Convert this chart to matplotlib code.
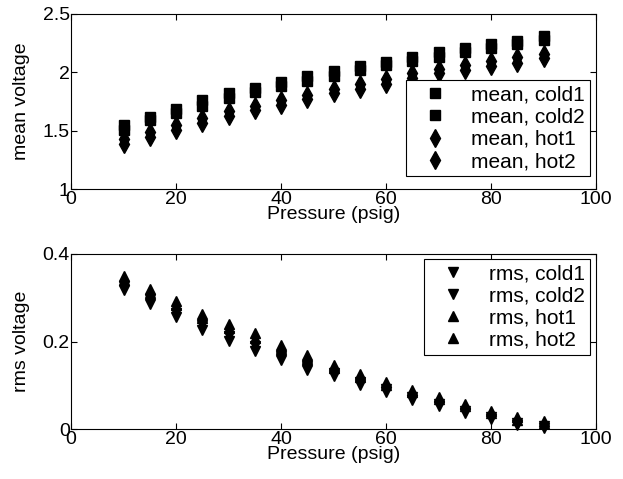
import matplotlib
matplotlib.use("Agg")
import matplotlib.pyplot as plt
import numpy as np

plt.rcParams["font.family"] = ["Liberation Sans", "DejaVu Sans"]
plt.rcParams["font.size"] = 14

pressure = [10, 15, 20, 25, 30, 35, 40, 45, 50, 55, 60, 65, 70, 75, 80, 85, 90]

mean_cold1 = [1.55, 1.62, 1.69, 1.76, 1.82, 1.87, 1.92, 1.97, 2.01, 2.05, 2.09,
              2.13, 2.17, 2.21, 2.24, 2.27, 2.31]
mean_cold2 = [1.51, 1.59, 1.65, 1.71, 1.78, 1.83, 1.88, 1.93, 1.97, 2.02, 2.06,
              2.10, 2.13, 2.17, 2.21, 2.24, 2.28]
mean_hot1 = [1.43, 1.49, 1.55, 1.61, 1.67, 1.71, 1.76, 1.81, 1.86, 1.90, 1.94,
             1.99, 2.03, 2.06, 2.10, 2.13, 2.16]
mean_hot2 = [1.39, 1.45, 1.51, 1.57, 1.63, 1.68, 1.72, 1.77, 1.82, 1.86, 1.90,
             1.95, 1.99, 2.02, 2.05, 2.08, 2.12]

rms_cold1 = [0.327, 0.296, 0.266, 0.237, 0.212, 0.190, 0.167, 0.145, 0.128, 0.107,
             0.091, 0.073, 0.058, 0.042, 0.028, 0.015, 0.007]
rms_cold2 = [0.317, 0.286, 0.256, 0.227, 0.202, 0.179, 0.157, 0.136, 0.121, 0.100,
             0.085, 0.067, 0.053, 0.037, 0.023, 0.010, 0.003]
rms_hot1 = [0.340, 0.310, 0.283, 0.253, 0.230, 0.209, 0.183, 0.160, 0.140, 0.119,
            0.101, 0.084, 0.068, 0.052, 0.036, 0.022, 0.014]
rms_hot2 = [0.350, 0.319, 0.293, 0.263, 0.240, 0.219, 0.193, 0.170, 0.146, 0.125,
            0.107, 0.090, 0.073, 0.057, 0.041, 0.027, 0.019]


def style_axes(ax):
    ax.tick_params(direction="in", top=True, right=True, length=4, width=0.8,
                   labelsize=14, pad=1)
    for s in ax.spines.values():
        s.set_linewidth(0.8)
    ax.set_xlim(0, 100)
    ax.set_xticks([0, 20, 40, 60, 80, 100])
    ax.set_xlabel("Pressure (psig)", labelpad=-1)


def legend(ax, **kw):
    leg = ax.legend(frameon=True, fancybox=False, framealpha=1, edgecolor="black",
                    borderpad=0.25, labelspacing=0.15, handletextpad=0.6,
                    handlelength=2.3, borderaxespad=0, fontsize=15, **kw)
    leg.get_frame().set_linewidth(0.8)
    return leg


fig = plt.figure(figsize=(6.23, 4.79), dpi=100)
ax_mean = fig.add_axes([0.114, 0.605, 0.843, 0.366])
ax_rms = fig.add_axes([0.114, 0.104, 0.843, 0.366])

ax_mean.plot(pressure, mean_cold1, "ks", markersize=7, label="mean, cold1")
ax_mean.plot(pressure, mean_cold2, "ks", markersize=7, label="mean, cold2")
ax_mean.plot(pressure, mean_hot1, "kd", markersize=9, label="mean, hot1")
ax_mean.plot(pressure, mean_hot2, "kd", markersize=9, label="mean, hot2")
style_axes(ax_mean)
ax_mean.set_ylim(1, 2.5)
ax_mean.set_yticks([1, 1.5, 2, 2.5])
ax_mean.set_yticklabels(["1", "1.5", "2", "2.5"])
ax_mean.set_ylabel("mean voltage", labelpad=9)
legend(ax_mean, loc="lower right", bbox_to_anchor=(0.989, 0.074))

ax_rms.plot(pressure, rms_cold1, "kv", markersize=7, label="rms, cold1", clip_on=False)
ax_rms.plot(pressure, rms_cold2, "kv", markersize=7, label="rms, cold2", clip_on=False)
ax_rms.plot(pressure, rms_hot1, "k^", markersize=7, label="rms, hot1", clip_on=False)
ax_rms.plot(pressure, rms_hot2, "k^", markersize=7, label="rms, hot2", clip_on=False)
style_axes(ax_rms)
ax_rms.set_ylim(0, 0.4)
ax_rms.set_yticks([0, 0.2, 0.4])
ax_rms.set_yticklabels(["0", "0.2", "0.4"])
ax_rms.set_ylabel("rms voltage", labelpad=9)
legend(ax_rms, loc="upper right", bbox_to_anchor=(0.989, 0.971))

fig.savefig("out.png", dpi=100)
